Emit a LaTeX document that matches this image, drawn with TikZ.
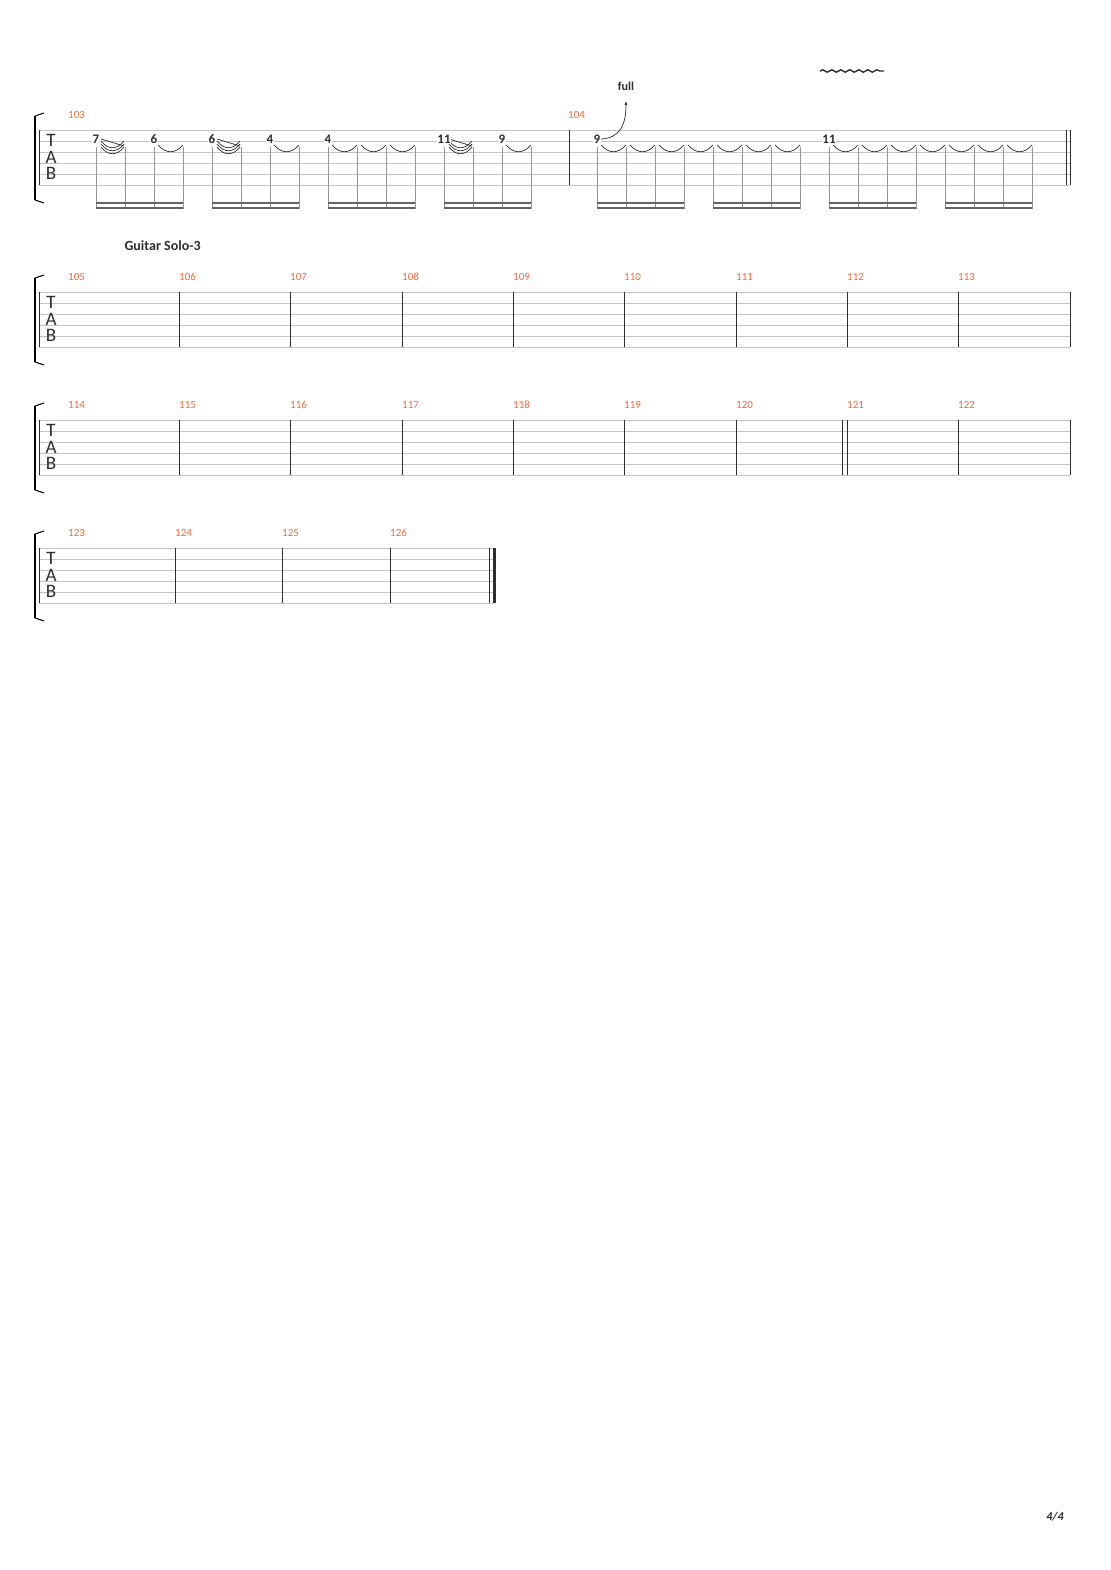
\documentclass[tikz,border=0pt]{standalone}
\usepackage{fontspec}
\setmainfont{Carlito}
\usetikzlibrary{arrows.meta}
\usetikzlibrary{decorations.pathmorphing}
\definecolor{barnumcolor}{RGB}{255, 102, 51}
\definecolor{stafflinecolor}{RGB}{195, 195, 195}
\definecolor{stemcolor}{RGB}{150, 150, 150}
\definecolor{beamcolor}{RGB}{100, 100, 100}
\definecolor{inkcolor}{RGB}{45, 45, 45}
\tikzstyle{staffline} = [stafflinecolor, line width=0.8pt]
\tikzstyle{barline} = [inkcolor, line width=1pt]
\tikzstyle{stem} = [stemcolor, line width=0.8pt]
\tikzstyle{beam} = [beamcolor, line width=1.6pt]
\tikzstyle{tie} = [inkcolor, line width=0.7pt]
\tikzstyle{barnum} = [barnumcolor, font=\fontsize{11}{11}\selectfont, anchor=south west, inner sep=0pt]
\tikzstyle{fret} = [inkcolor, font=\bfseries\fontsize{13}{13}\selectfont, fill=white, inner sep=0.5pt]
\tikzstyle{clef} = [inkcolor, font=\fontsize{19}{19}\selectfont, inner sep=0pt]
% staff: #1 = top line y, #2 = right end x
\newcommand{\tabstaff}[2]{
	\foreach \l in {0,...,5}
		\draw[staffline] (39, #1+\l*11) -- (#2, #1+\l*11);
	\draw[barline] (39, #1) -- (39, #1+55);
	\node[clef] at (51, #1+10) {T};
	\node[clef] at (51, #1+27) {A};
	\node[clef] at (51, #1+43) {B};
	\draw[black, line width=2.2pt] (35, #1-14) -- (35, #1+70);
	\draw[black, line width=1pt] (35, #1-14) -- (44, #1-17);
	\draw[black, line width=1pt] (35, #1+70) -- (44, #1+73);
}
\begin{document}
\begin{tikzpicture}[x=1pt, y=-1pt]
	\useasboundingbox[fill=white] (0,0) rectangle (1110,1570);

	%
	% First system (bars 103-104)
	\tabstaff{130}{1070}
	\node[barnum] (b103) at (68, 119) {103};
	\node[barnum] (b104) at (568, 119) {104};
	\draw[barline] (569, 130) -- (569, 185);
	\draw[barline] (1066, 130) -- (1066, 185);
	\draw[barline] (1070, 130) -- (1070, 185);

	% Stems and beams
	\foreach \g in {96, 212, 328, 444, 597, 713, 829, 945} {
		\foreach \s in {0,1,2,3}
			\draw[stem] (\g+\s*29, 147) -- (\g+\s*29, 209);
		\draw[beam] (\g, 203) -- (\g+87, 203);
		\draw[beam] (\g, 208) -- (\g+87, 208);
	}

	% Ties
	\foreach \a in {154, 270, 328, 357, 386, 502, 597, 626, 655, 684, 713, 742, 771, 829, 858, 887, 916, 945, 974, 1003}
		\draw[tie] (\a+4, 145) .. controls (\a+12, 154) and (\a+21, 154) .. (\a+29, 145);
	% Triple legato arcs
	\foreach \a in {96, 212, 444} {
		\foreach \d in {0, 3, 6}
			\draw[tie] (\a+5, 141+\d) .. controls (\a+12, 150+\d) and (\a+21, 150+\d) .. (\a+28, 141+\d);
		\draw[tie] (\a+5, 139) -- (\a+28, 146);
	}

	% Fret numbers
	\foreach \x/\f in {96/7, 154/6, 212/6, 270/4, 328/4, 444/11, 502/9, 597/9, 829/11}
		\node[fret] (f\x) at (\x, 139) {\f};

	% Bend and vibrato
	\node[inkcolor, font=\bfseries\fontsize{12}{12}\selectfont] (full) at (626, 86) {full};
	\coordinate (bendtop) at (626, 101);
	\draw[tie, -{Latex[length=4pt, width=3pt]}] (f597.east) .. controls (620, 138) and (626, 125) .. (bendtop);
	\draw[inkcolor, line width=1.4pt, decorate, decoration={snake, amplitude=1.2pt, segment length=9pt}] (820, 71) -- (884, 71);

	%
	% Second system (bars 105-113)
	\node[inkcolor, font=\bfseries\fontsize{14}{14}\selectfont, anchor=west] (solo) at (121, 246) {Guitar Solo-3};
	\tabstaff{292}{1070}
	\node[barnum] (b105) at (68, 281) {105};
	\foreach \x [count=\i from 106] in {179, 290, 402, 513, 624, 736, 847, 958} {
		\draw[barline] (\x, 292) -- (\x, 347);
		\node[barnum] (b\i) at (\x, 281) {\i};
	}
	\draw[barline] (1070, 292) -- (1070, 347);

	%
	% Third system (bars 114-122)
	\tabstaff{420}{1070}
	\node[barnum] (b114) at (68, 409) {114};
	\foreach \x [count=\i from 115] in {179, 290, 402, 513, 624, 736, 847, 958} {
		\draw[barline] (\x, 420) -- (\x, 475);
		\node[barnum] (b\i) at (\x, 409) {\i};
	}
	\draw[barline] (842, 420) -- (842, 475);
	\draw[barline] (1070, 420) -- (1070, 475);

	%
	% Fourth system (bars 123-126)
	\tabstaff{548}{494}
	\node[barnum] (b123) at (68, 537) {123};
	\foreach \x [count=\i from 124] in {175, 282, 390} {
		\draw[barline] (\x, 548) -- (\x, 603);
		\node[barnum] (b\i) at (\x, 537) {\i};
	}
	\draw[barline] (489, 548) -- (489, 603);
	\draw[inkcolor, line width=3pt] (494, 548) -- (494, 603);

	% Page number
	\node[inkcolor, font=\bfseries\itshape\fontsize{12}{12}\selectfont] (page) at (1055, 1517) {4/4};
\end{tikzpicture}
\end{document}
